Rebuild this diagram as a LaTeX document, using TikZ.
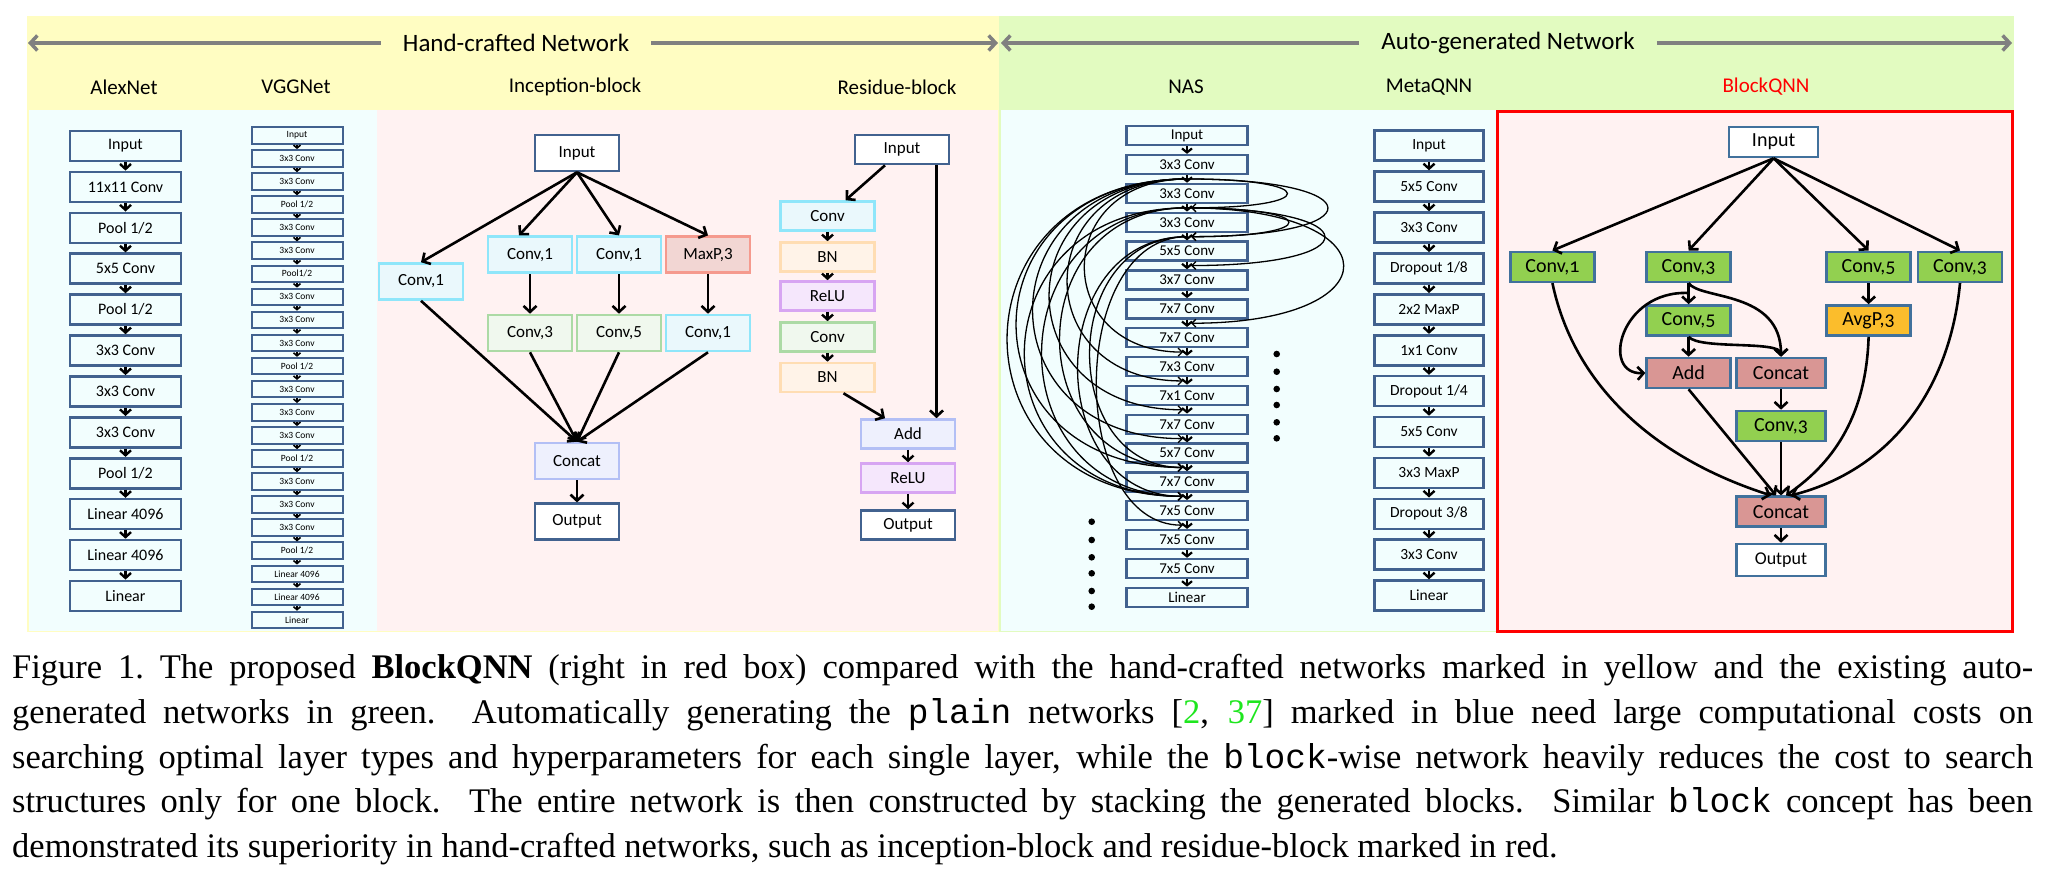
\documentclass[tikz,border=0pt]{standalone}
\usepackage{fontspec}
\setmainfont{Liberation Serif}
\setmonofont{Liberation Mono}
\newfontfamily\diagfont{Carlito}
\newfontfamily\diagoldfont{Carlito}[Numbers=OldStyle]
\usetikzlibrary{arrows.meta, positioning, calc}

\newcommand\fsz[1]{\fontsize{#1}{#1}\selectfont}

\definecolor{bandyellow}{RGB}{255,253,194}
\definecolor{bandgreen}{RGB}{226,251,192}
\definecolor{panelblue}{RGB}{242,254,254}
\definecolor{panelpink}{RGB}{255,242,242}
\definecolor{boxblue}{RGB}{66,98,143}
\definecolor{lineblue}{RGB}{143,230,250}
\definecolor{fillblue}{RGB}{234,248,252}
\definecolor{linegreen}{RGB}{172,218,165}
\definecolor{fillgreen}{RGB}{240,248,238}
\definecolor{linesalmon}{RGB}{245,154,142}
\definecolor{fillsalmon}{RGB}{242,214,211}
\definecolor{lineviolet}{RGB}{179,191,245}
\definecolor{fillviolet}{RGB}{238,240,253}
\definecolor{lineorange}{RGB}{255,221,179}
\definecolor{fillorange}{RGB}{255,243,232}
\definecolor{linepurple}{RGB}{215,165,242}
\definecolor{fillpurple}{RGB}{245,231,252}
\definecolor{qborder}{RGB}{65,113,156}
\definecolor{qgreen}{RGB}{146,208,80}
\definecolor{qred}{RGB}{217,150,148}
\definecolor{qorange}{RGB}{251,189,44}
\definecolor{bandgray}{RGB}{128,128,128}
\definecolor{citegreen}{RGB}{30,230,30}

\begin{document}
\begin{tikzpicture}[x=1pt, y=-1pt,
    bandtitle/.style={font=\diagfont\fsz{25}, inner xsep=22pt},
    coltitle/.style={font=\diagfont\fsz{21}},
    bandarrow/.style={draw=bandgray, line width=3.5pt, -{Straight Barb[length=7pt, width=15pt]}},
    alexbox/.style={draw=boxblue, line width=2.6pt, minimum width=111pt, minimum height=30pt, inner sep=0pt, font=\diagfont\fsz{16}},
    vggbox/.style={draw=boxblue, line width=2pt, minimum width=91pt, minimum height=16.5pt, inner sep=0pt, font=\diagfont\fsz{9.5}},
    nasbox/.style={draw=boxblue, line width=2.4pt, minimum width=121pt, minimum height=19pt, inner sep=0pt, font=\diagfont\fsz{15}},
    metabox/.style={alexbox, minimum width=109pt, font=\diagfont\fsz{15.5}},
    incbox/.style={line width=2.6pt, minimum width=84pt, minimum height=36pt, inner sep=0pt, font=\diagfont\fsz{17}},
    resbox/.style={incbox, minimum width=94pt, minimum height=29pt},
    qbox/.style={draw=qborder, line width=2.6pt, minimum width=84pt, minimum height=30pt, inner sep=0pt, font=\diagoldfont\fsz{20}},
    plainbox/.style={draw=boxblue, fill=white},
    convblue/.style={draw=lineblue, fill=fillblue},
    convgreen/.style={draw=linegreen, fill=fillgreen},
    maxpool/.style={draw=linesalmon, fill=fillsalmon},
    merge/.style={draw=lineviolet, fill=fillviolet},
    norm/.style={draw=lineorange, fill=fillorange},
    relu/.style={draw=linepurple, fill=fillpurple},
    chain/.style={line width=2.4pt, -{Straight Barb[length=5pt, width=11pt]}},
    vggchain/.style={line width=1.6pt, -{Straight Barb[length=3pt, width=7pt]}},
    naschain/.style={line width=2.2pt, -{Straight Barb[length=4pt, width=10pt]}},
    skip/.style={line width=1.3pt, -{Straight Barb[length=4pt, width=8pt]}},
    flow/.style={line width=2.6pt, -{Straight Barb[length=6pt, width=13pt]}},
    caption/.style={anchor=north west, inner sep=0pt, text width=2021pt, align=justify, font=\fontsize{34.5}{44.8}\selectfont}
]
    \useasboundingbox (0,0) rectangle (2048,876);

    % backgrounds
    \fill[bandyellow] (27,16) rectangle (999,632);
    \fill[bandgreen] (999,16) rectangle (2014,632);
    \fill[panelblue] (28.5,110) rectangle (377,630.5);
    \fill[panelpink] (377,110) rectangle (997.5,630.5);
    \fill[panelblue] (1000.5,110) rectangle (1497,630.5);
    \draw[red, line width=3pt, fill=panelpink] (1497,111.5) rectangle (2012.5,631);

    % Top band
    \node[bandtitle] (handtitle) at (516,43) {Hand-crafted Network};
    \coordinate (handL) at (28,43);
    \coordinate (handR) at (998,43);
    \draw[bandarrow] (handtitle) -- (handL);
    \draw[bandarrow] (handtitle) -- (handR);
    \node[bandtitle] (autotitle) at (1508,43) {Auto-generated Network};
    \coordinate (autoL) at (1001,43);
    \coordinate (autoR) at (2012,43);
    \draw[bandarrow] (autotitle) -- (autoL);
    \draw[bandarrow] (autotitle) -- (autoR);

    \node[coltitle] (talex) at (124,87) {AlexNet};
    \node[coltitle] (tvgg) at (296,87) {VGGNet};
    \node[coltitle] (tinc) at (575,87) {Inception-block};
    \node[coltitle] (tres) at (897,87) {Residue-block};
    \node[coltitle] (tnas) at (1186,87) {NAS};
    \node[coltitle] (tmeta) at (1429,87) {MetaQNN};
    \node[coltitle, text=red] (tblock) at (1766,87) {BlockQNN};

    % AlexNet
    \foreach \t [count=\i from 0] in {Input, 11x11 Conv, Pool 1/2, 5x5 Conv, Pool 1/2, 3x3 Conv, 3x3 Conv, 3x3 Conv, Pool 1/2, Linear 4096, Linear 4096, Linear}
        \node[alexbox] (alex\i) at (125.5,{146+40.9*\i}) {\t};
    \foreach \i [remember=\i as \j (initially 0)] in {1,...,11}
        \draw[chain] (alex\j) -- (alex\i);

    % VGGNet
    \foreach \t [count=\i from 0] in {Input, 3x3 Conv, 3x3 Conv, Pool 1/2, 3x3 Conv, 3x3 Conv, Pool1/2, 3x3 Conv, 3x3 Conv, 3x3 Conv, Pool 1/2, 3x3 Conv, 3x3 Conv, 3x3 Conv, Pool 1/2, 3x3 Conv, 3x3 Conv, 3x3 Conv, Pool 1/2, Linear 4096, Linear 4096, Linear}
        \node[vggbox] (vgg\i) at (297,{135.3+23.08*\i}) {\t};
    \foreach \i [remember=\i as \j (initially 0)] in {1,...,21}
        \draw[vggchain] (vgg\j) -- (vgg\i);

    % Inception-block
    \node[incbox, plainbox] (iin) at (577,153) {Input};
    \node[incbox, convblue] (ic1a) at (421,281.5) {Conv,1};
    \node[incbox, convblue] (ic1b) at (530,254.7) {Conv,1};
    \node[incbox, convblue] (ic1c) at (619,254.7) {Conv,1};
    \node[incbox, maxpool] (imax) at (708,254.7) {MaxP,3};
    \node[incbox, convgreen] (ic3) at (530,333) {Conv,3};
    \node[incbox, convgreen] (ic5) at (619,333) {Conv,5};
    \node[incbox, convblue] (ic1d) at (708,333) {Conv,1};
    \node[incbox, merge] (icat) at (577,461) {Concat};
    \node[incbox, plainbox] (iout) at (577,521.7) {Output};
    \draw[flow] (iin.south) -- (ic1a.north);
    \draw[flow] (iin.south) -- ([xshift=-11pt]ic1b.north);
    \draw[flow] (iin.south) -- (ic1c.north);
    \draw[flow] (iin.south) -- (imax.north);
    \draw[flow] (ic1b) -- (ic3);
    \draw[flow] (ic1c) -- (ic5);
    \draw[flow] (imax) -- (ic1d);
    \draw[flow] (ic1a.south) -- (icat.north);
    \draw[flow] (ic3.south) -- (icat.north);
    \draw[flow] (ic5.south) -- (icat.north);
    \draw[flow] (ic1d.south) -- (icat.north);
    \draw[flow] (icat) -- (iout);

    % Residue-block
    \node[resbox, plainbox] (rin) at (902,149.5) {Input};
    \node[resbox, convblue] (rconv1) at (827.5,216) {Conv};
    \node[resbox, norm] (rbn1) at (827.5,257) {BN};
    \node[resbox, relu] (rrelu1) at (827.5,296) {ReLU};
    \node[resbox, convgreen] (rconv2) at (827.5,337) {Conv};
    \node[resbox, norm] (rbn2) at (827.5,377.5) {BN};
    \node[resbox, merge] (radd) at (908,434) {Add};
    \node[resbox, relu] (rrelu2) at (908,478) {ReLU};
    \node[resbox, plainbox] (rout) at (908,525) {Output};
    \draw[flow] ([xshift=-17pt]rin.south) -- ([xshift=18pt]rconv1.north);
    \draw[flow] ([xshift=34.5pt]rin.south) -- ([xshift=28.5pt]radd.north);
    \draw[chain] (rconv1) -- (rbn1);
    \draw[chain] (rbn1) -- (rrelu1);
    \draw[chain] (rrelu1) -- (rconv2);
    \draw[chain] (rconv2) -- (rbn2);
    \draw[flow] ([xshift=16pt]rbn2.south) -- ([xshift=-23pt]radd.north);
    \draw[chain] (radd) -- (rrelu2);
    \draw[chain] (rrelu2) -- (rout);

    % NAS
    \foreach \t [count=\i from 0] in {Input, 3x3 Conv, 3x3 Conv, 3x3 Conv, 5x5 Conv, 3x7 Conv, 7x7 Conv, 7x7 Conv, 7x3 Conv, 7x1 Conv, 7x7 Conv, 5x7 Conv, 7x7 Conv, 7x5 Conv, 7x5 Conv, 7x5 Conv, Linear}
        \node[nasbox] (nas\i) at (1187,{135.7+28.85*\i}) {\t};
    \foreach \i [remember=\i as \j (initially 0)] in {1,...,16}
        \draw[naschain] (nas\j) -- (nas\i);
    \foreach \k in {0,...,15}
        \coordinate (gap\k) at (1187,{135.7+28.85*(\k+0.5)});
    % skip connections, left side
    \foreach \s/\d/\c in {1/7/1051, 1/8/1028, 1/9/1004, 1/10/982, 1/11/960, 1/12/948, 2/11/1018, 2/12/994, 2/12/971, 3/11/1058, 3/12/1042, 3/13/1067} {
        \pgfmathsetmacro\ya{135.7+28.85*(\s+0.5)}
        \pgfmathsetmacro\yb{135.7+28.85*(\d+0.5)}
        \draw[skip] (gap\s) .. controls (\c,\ya) and (\c,\yb) .. ([xshift=-4pt]gap\d);
    }
    % skip connections, right side
    \foreach \s/\d/\c in {1/2/1320, 1/3/1374, 2/3/1322, 2/4/1370, 2/6/1395} {
        \pgfmathsetmacro\ya{135.7+28.85*(\s+0.5)}
        \pgfmathsetmacro\yb{135.7+28.85*(\d+0.5)}
        \draw[skip] (gap\s) .. controls (\c,\ya) and (\c,\yb) .. ([xshift=4pt]gap\d);
    }
    \foreach \y in {354, 371.7, 389, 405, 422.3, 438.3}
        \fill (1276.7,\y) circle (3.3);
    \foreach \y in {521.7, 540, 557.3, 573.3, 591, 606.7}
        \fill (1091.7,\y) circle (3.3);

    % MetaQNN
    \foreach \t [count=\i from 0] in {Input, 5x5 Conv, 3x3 Conv, Dropout 1/8, 2x2 MaxP, 1x1 Conv, Dropout 1/4, 5x5 Conv, 3x3 MaxP, Dropout 3/8, 3x3 Conv, Linear}
        \node[metabox] (meta\i) at (1429,{145.7+40.9*\i}) {\t};
    \foreach \i [remember=\i as \j (initially 0)] in {1,...,11}
        \draw[chain] (meta\j) -- (meta\i);

    % BlockQNN
    \node[qbox, fill=white, minimum width=89pt] (qin) at (1773.6,142) {Input};
    \node[qbox, fill=qgreen] (qc1) at (1552.4,266.8) {Conv,1};
    \node[qbox, fill=qgreen] (qc3a) at (1688.6,266.8) {Conv,3};
    \node[qbox, fill=qgreen] (qc5a) at (1868.6,266.8) {Conv,5};
    \node[qbox, fill=qgreen] (qc3b) at (1960,266.8) {Conv,3};
    \node[qbox, fill=qgreen] (qc5b) at (1688.6,320.5) {Conv,5};
    \node[qbox, fill=qorange] (qavg) at (1868.6,320.5) {AvgP,3};
    \node[qbox, fill=qred] (qadd) at (1688.6,373) {Add};
    \node[qbox, fill=qred, minimum width=89pt] (qcat1) at (1781,373) {Concat};
    \node[qbox, fill=qgreen, minimum width=89pt] (qc3c) at (1781,426) {Conv,3};
    \node[qbox, fill=qred, minimum width=89pt] (qcat2) at (1781,511.7) {Concat};
    \node[qbox, fill=white, minimum width=89pt, minimum height=32pt, font=\diagfont\fsz{18}] (qout) at (1781,560) {Output};
    \draw[flow] (qin.south) -- (qc1.north);
    \draw[flow] (qin.south) -- (qc3a.north);
    \draw[flow] (qin.south) -- (qc5a.north);
    \draw[flow] (qin.south) -- (qc3b.north);
    \draw[flow] (qc3a) -- (qc5b);
    \draw[flow] (qc3a.south) .. controls (1700,300) and (1781,290) .. (qcat1.north);
    \coordinate (qsplit) at (1688.6,293);
    \draw[flow] (qsplit) .. controls (1620,290) and (1600,375) .. (qadd.west);
    \draw[flow] (qc5b) -- (qadd);
    \draw[flow] (qc5b.south) .. controls (1700,350) and (1781,340) .. (qcat1.north);
    \draw[flow] (qcat1) -- (qc3c);
    \draw[flow] (qc5a) -- (qavg);
    \draw[flow] (qc1.south) .. controls (1575,390) and (1660,460) .. ([xshift=-10pt]qcat2.north);
    \draw[flow] (qadd.south) -- ([xshift=-5pt]qcat2.north);
    \draw[flow] (qc3c) -- (qcat2);
    \draw[flow] (qavg.south) .. controls (1866,420) and (1830,465) .. ([xshift=5pt]qcat2.north);
    \draw[flow] (qc3b.south) .. controls (1950,390) and (1890,470) .. ([xshift=10pt]qcat2.north);
    \draw[flow] (qcat2) -- (qout);

    % Caption
    \node[caption] (cap) at (12,654) {\noindent Figure 1.\ The proposed \textbf{BlockQNN} (right in red box) compared with the hand-crafted networks marked in yellow and the existing auto-\linebreak
    generated networks in green.  Automatically generating the \texttt{plain} networks [{\color{citegreen}2}, {\color{citegreen}37}] marked in blue need large computational costs on\linebreak
    searching optimal layer types and hyperparameters for each single layer, while the \texttt{block}-wise network heavily reduces the cost to search\linebreak
    structures only for one block.  The entire network is then constructed by stacking the generated blocks.  Similar \texttt{block} concept has been\linebreak
    demonstrated its superiority in hand-crafted networks, such as inception-block and residue-block marked in red.};
\end{tikzpicture}
\end{document}
